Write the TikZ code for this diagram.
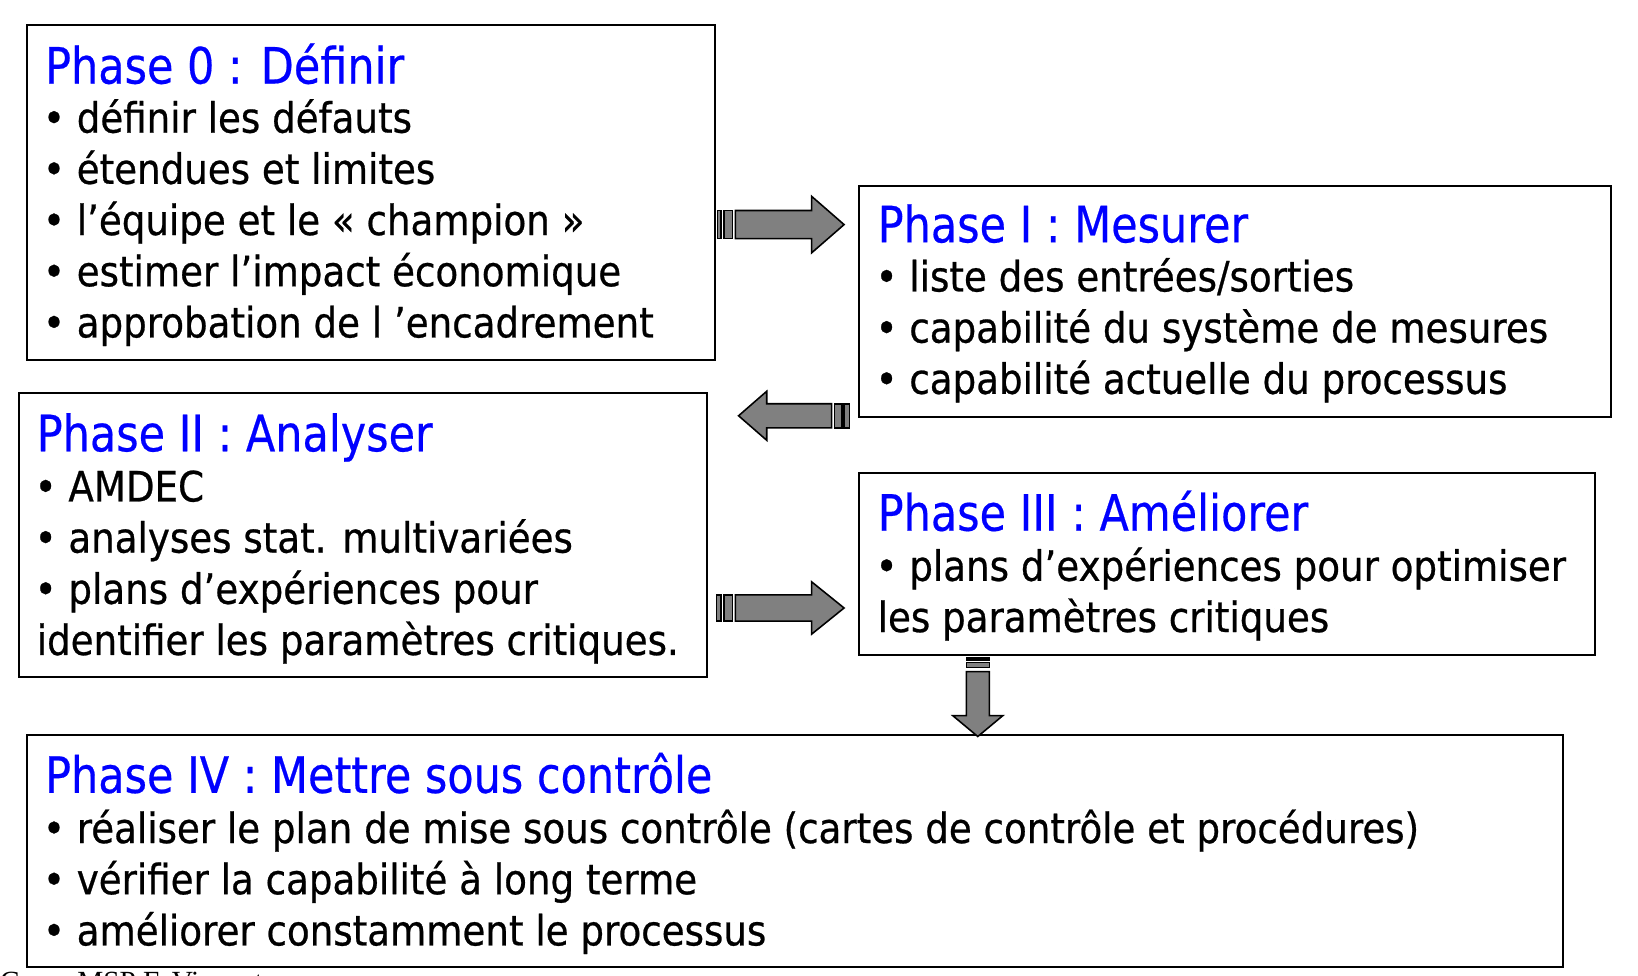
\documentclass[tikz,border=0pt]{standalone}
\usepackage{fontspec}
\setmainfont{DejaVu Sans}[FakeStretch=0.89,FakeBold=0.6]
\newfontfamily\titlefont{DejaVu Sans}[FakeStretch=0.857,FakeBold=0.4]
\newfontfamily\footfont{Liberation Serif}
\definecolor{titleblue}{RGB}{0,0,255}
\definecolor{arrowgray}{RGB}{128,128,128}
\begin{document}
\begin{tikzpicture}[x=1pt,y=-1pt,
  box/.style={draw=black,line width=2pt,anchor=north west,inner sep=0pt},
  ttl/.style={anchor=base west,inner sep=0pt,text=titleblue,font=\titlefont\fontsize{48}{58}\selectfont},
  body/.style={anchor=base west,inner sep=0pt,font=\fontsize{40}{49}\selectfont},
  fat/.style={draw=black,line width=1.5pt,fill=arrowgray,line join=miter}]
\useasboundingbox (0,0) rectangle (1568,934);
% boxes
\node[box,minimum width=658pt,minimum height=321pt] (b0) at (25,23) {};
\node[box,minimum width=720pt,minimum height=221pt] (bI) at (821,177) {};
\node[box,minimum width=659pt,minimum height=272pt] (bII) at (17,375) {};
\node[box,minimum width=705pt,minimum height=174pt] (bIII) at (821,452) {};
\node[box,minimum width=1470pt,minimum height=222pt] (bIV) at (25,703) {};
% Phase 0
\node[ttl] (t0) at (43,80) {Phase 0 : Définir};
\node[body] (l01) at (41,127) {• définir les défauts};
\node[body] (l02) at (41,176) {• étendues et limites};
\node[body] (l03) at (41,225) {• l’équipe et le «~champion~»};
\node[body] (l04) at (41,274) {• estimer l’impact économique};
\node[body] (l05) at (41,323) {• approbation de l ’encadrement};
% Phase I
\node[ttl] (t1) at (840,232) {Phase I : Mesurer};
\node[body] (l11) at (838,279) {• liste des entrées/sorties};
\node[body] (l12) at (838,328) {• capabilité du système de mesures};
\node[body] (l13) at (838,377) {• capabilité actuelle du processus};
% Phase II
\node[ttl] (t2) at (35,432) {Phase II : Analyser};
\node[body] (l21) at (33,480) {• AMDEC};
\node[body] (l22) at (33,529) {• analyses stat. multivariées};
\node[body] (l23) at (33,578) {• plans d’expériences pour};
\node[body] (l24) at (35,627) {identifier les paramètres critiques.};
% Phase III
\node[ttl] (t3) at (840,508) {Phase III : Améliorer};
\node[body] (l31) at (838,556) {• plans d’expériences pour optimiser};
\node[body] (l32) at (840,605) {les paramètres critiques};
% Phase IV
\node[ttl] (t4) at (43,759) {Phase IV : Mettre sous contrôle};
\node[body] (l41) at (41,807) {• réaliser le plan de mise sous contrôle (cartes de contrôle et procédures)};
\node[body] (l42) at (41,856) {• vérifier la capabilité à long terme};
\node[body] (l43) at (41,905) {• améliorer constamment le processus};
% footer (cut off by the page edge, as in the reference)
\node[anchor=base west,inner sep=0pt,font=\footfont\fontsize{28}{30}\selectfont] (foot) at (0,949) {Cours MSP F. Vincent};
% arrows
\coordinate (y1) at (0,215);
\coordinate (y2) at (0,398);
\coordinate (y3) at (0,582);
\coordinate (x4) at (936,0);
\begin{scope}[shift={(b0.east |- y1)}]
  \draw[fat] (2,-13.5) rectangle (5,13.5);
  \draw[fat] (8,-13.5) rectangle (16,13.5);
  \draw[fat] (19,-13.5) -- (92,-13.5) -- (92,-27) -- (123,0) -- (92,27) -- (92,13.5) -- (19,13.5) -- cycle;
\end{scope}
\begin{scope}[shift={(bI.west |- y2)}]
  \draw[fat] (-13,-11.5) rectangle (-8,11.5);
  \draw[fat] (-22,-11.5) rectangle (-15,11.5);
  \draw[fat] (-25,-11.5) -- (-87,-11.5) -- (-87,-23.5) -- (-114,0) -- (-87,23.5) -- (-87,11.5) -- (-25,11.5) -- cycle;
\end{scope}
\begin{scope}[shift={(bII.east |- y3)}]
  \draw[fat] (8,-12.5) rectangle (12,12.5);
  \draw[fat] (15,-12.5) rectangle (23,12.5);
  \draw[fat] (26,-12.5) -- (99,-12.5) -- (99,-25) -- (130,0) -- (99,25) -- (99,12.5) -- (26,12.5) -- cycle;
\end{scope}
\begin{scope}[shift={(x4 |- bIII.south)}]
  \draw[fat] (-11,2) rectangle (11,4);
  \draw[fat] (-11,6) rectangle (11,11);
  \draw[fat] (-11,15) -- (-11,57) -- (-24,57) -- (0,77) -- (24,57) -- (11,57) -- (11,15) -- cycle;
\end{scope}
\end{tikzpicture}
\end{document}
